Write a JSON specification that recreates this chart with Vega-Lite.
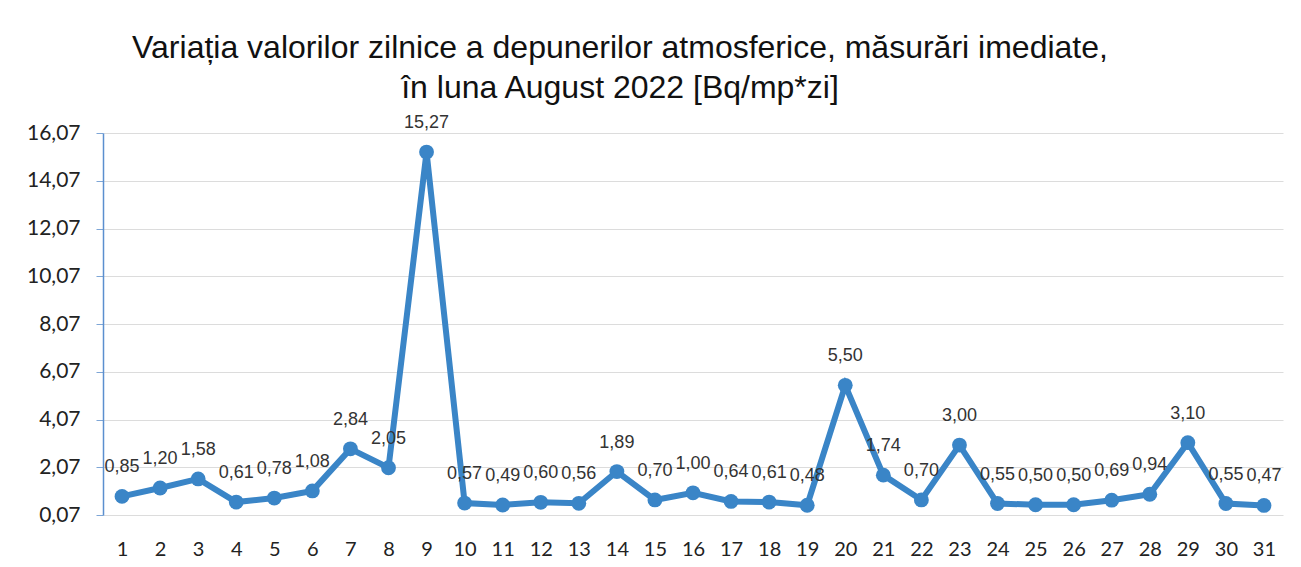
{
  "$schema": "https://vega.github.io/schema/vega-lite/v6.json",
  "width": 1180,
  "height": 382,
  "autosize": {"type": "none"},
  "padding": {"left": 103, "top": 133, "right": 18, "bottom": 52},
  "background": "white",
  "title": {
    "text": ["Variația valorilor zilnice a depunerilor atmosferice, măsurări imediate,", "în luna August 2022 [Bq/mp*zi]"],
    "font": "Liberation Sans",
    "fontSize": 32,
    "fontWeight": "normal",
    "color": "#111111",
    "anchor": "middle",
    "frame": "group",
    "baseline": "bottom",
    "lineHeight": 40,
    "offset": 30,
    "dy": 53,
    "dx": -73
  },
  "config": {
    "view": {"stroke": null},
    "locale": {"number": {"decimal": ",", "thousands": ".", "grouping": [3], "currency": ["", ""]}},
    "axis": {"labelFont": "Lato", "labelColor": "#222222", "title": null}
  },
  "data": {
    "values": [
      {"day": 1, "value": 0.85}, {"day": 2, "value": 1.20}, {"day": 3, "value": 1.58},
      {"day": 4, "value": 0.61}, {"day": 5, "value": 0.78}, {"day": 6, "value": 1.08},
      {"day": 7, "value": 2.84}, {"day": 8, "value": 2.05}, {"day": 9, "value": 15.27},
      {"day": 10, "value": 0.57}, {"day": 11, "value": 0.49}, {"day": 12, "value": 0.60},
      {"day": 13, "value": 0.56}, {"day": 14, "value": 1.89}, {"day": 15, "value": 0.70},
      {"day": 16, "value": 1.00}, {"day": 17, "value": 0.64}, {"day": 18, "value": 0.61},
      {"day": 19, "value": 0.48}, {"day": 20, "value": 5.50}, {"day": 21, "value": 1.74},
      {"day": 22, "value": 0.70}, {"day": 23, "value": 3.00}, {"day": 24, "value": 0.55},
      {"day": 25, "value": 0.50}, {"day": 26, "value": 0.50}, {"day": 27, "value": 0.69},
      {"day": 28, "value": 0.94}, {"day": 29, "value": 3.10}, {"day": 30, "value": 0.55},
      {"day": 31, "value": 0.47}
    ]
  },
  "encoding": {
    "x": {
      "field": "day", "type": "ordinal",
      "scale": {"type": "point", "padding": 0.5},
      "axis": {"labelAngle": 0, "labelFontSize": 20, "ticks": false, "domain": false, "grid": false, "labelPadding": 24}
    },
    "y": {
      "field": "value", "type": "quantitative",
      "scale": {"domain": [0.07, 16.07], "nice": false, "zero": false},
      "axis": {
        "values": [0.07, 2.07, 4.07, 6.07, 8.07, 10.07, 12.07, 14.07, 16.07],
        "format": ".2f",
        "labelFontSize": 21,
        "labelPadding": 16,
        "tickSize": 7,
        "tickColor": "#7ea6d6",
        "domainColor": "#5b8fcf",
        "domainWidth": 1.5,
        "grid": true,
        "gridColor": "#dcdcdc",
        "gridWidth": 1
      }
    }
  },
  "layer": [
    {"mark": {"type": "line", "color": "#3a85c7", "strokeWidth": 6}},
    {"mark": {"type": "point", "filled": true, "opacity": 1, "color": "#3a85c7", "size": 220}},
    {
      "mark": {"type": "text", "dy": -29, "font": "Liberation Sans", "fontSize": 18, "color": "#333333", "baseline": "middle"},
      "encoding": {"text": {"field": "value", "type": "quantitative", "format": ".2f"}}
    }
  ]
}
